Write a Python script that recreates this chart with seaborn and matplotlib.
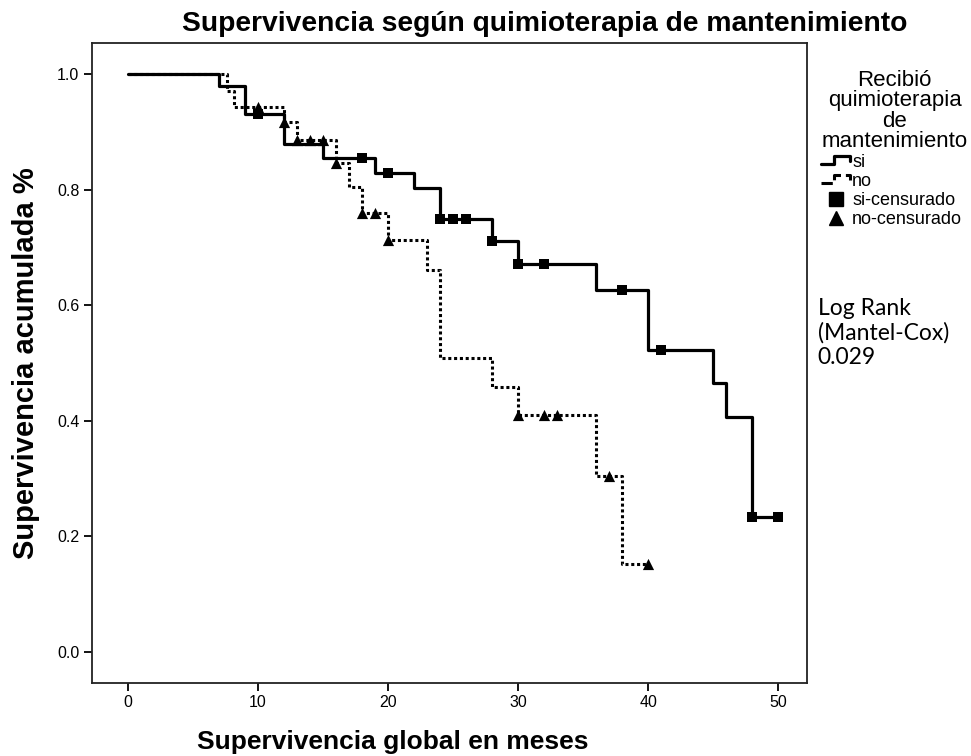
import numpy as np
import matplotlib
matplotlib.use("Agg")
import matplotlib.pyplot as plt
import seaborn as sns
from matplotlib.lines import Line2D
from matplotlib.legend_handler import HandlerLine2D

# Curvas de Kaplan-Meier (meses, supervivencia acumulada)
si_tiempos = [0, 7, 9, 12, 15, 19, 22, 24, 28, 30, 36, 40, 45, 46, 48, 50]
si_superv = [1.0, 0.979, 0.931, 0.879, 0.855, 0.829, 0.803, 0.749, 0.711,
             0.671, 0.626, 0.522, 0.465, 0.407, 0.233, 0.233]
si_censurados = [10, 18, 20, 24, 25, 26, 28, 30, 32, 38, 41, 48, 50]

no_tiempos = [0, 7.6, 8.2, 12, 13, 16, 17, 18, 20, 23, 24, 28, 30, 36, 38, 40]
no_superv = [1.0, 0.971, 0.943, 0.917, 0.886, 0.846, 0.804, 0.760, 0.713,
             0.661, 0.509, 0.459, 0.410, 0.304, 0.152, 0.152]
no_censurados = [10, 12, 13, 14, 15, 16, 18, 19, 20, 30, 32, 33, 37, 40]

etiquetas = ["si", "no", "si-censurado", "no-censurado"]
x_ticks = [0, 10, 20, 30, 40, 50]
y_ticks = [0.0, 0.2, 0.4, 0.6, 0.8, 1.0]


def valor_en(tiempos, superv, t):
    # valor de la curva escalonada en el tiempo t
    i = np.searchsorted(tiempos, t, side="right") - 1
    return superv[i]


sns.set_style("white")
plt.rcParams["font.family"] = ["Liberation Sans", "DejaVu Sans"]
plt.rcParams["text.color"] = "black"
plt.rcParams["axes.labelcolor"] = "black"
plt.rcParams["xtick.color"] = "black"
plt.rcParams["ytick.color"] = "black"

fig = plt.figure(figsize=(9.71, 7.56), dpi=100)
ax = fig.add_axes([0.0947, 0.0966, 0.7364, 0.8466])

sns.lineplot(x=si_tiempos, y=si_superv, drawstyle="steps-post", color="black",
             linewidth=2.3, estimator=None, sort=False, ax=ax)
sns.lineplot(x=no_tiempos, y=no_superv, drawstyle="steps-post", color="black",
             linewidth=2.2, linestyle=(0, (1, 0.9)), estimator=None, sort=False, ax=ax)

si_cens_y = [valor_en(si_tiempos, si_superv, t) for t in si_censurados]
no_cens_y = [valor_en(no_tiempos, no_superv, t) for t in no_censurados]
sns.scatterplot(x=si_censurados, y=si_cens_y, marker="s", s=55, color="black",
                edgecolor="black", linewidth=0, zorder=3, ax=ax)
sns.scatterplot(x=no_censurados, y=no_cens_y, marker="^", s=65, color="black",
                edgecolor="black", linewidth=0, zorder=3, ax=ax)

ax.set_xlim(-2.75, 52.2)
ax.set_ylim(-0.054, 1.054)
ax.set_xticks(x_ticks)
ax.set_yticks(y_ticks)
ax.set_yticklabels([f"{v:.1f}" for v in y_ticks])
ax.tick_params(axis="both", direction="out", length=6, width=1.3, labelsize=11.5,
               color="black", bottom=True, left=True, pad=3)
for lado in ax.spines.values():
    lado.set_color("#222222")
    lado.set_linewidth(1.3)

# título algo desplazado a la derecha, como en el original
fig.text(0.561, 0.968, "Supervivencia según quimioterapia de mantenimiento",
         fontsize=20.3, fontweight="bold", ha="center", va="center")
ax.set_xlabel("Supervivencia global en meses", fontsize=19, fontweight="bold")
ax.xaxis.set_label_coords(0.42, -0.073)
ax.set_ylabel("Supervivencia acumulada %", fontsize=21, fontweight="bold", labelpad=12)


class HandlerEscalon(HandlerLine2D):
    # icono de leyenda en forma de escalón, como en SPSS
    def create_artists(self, legend, orig_handle, xdescent, ydescent,
                       width, height, fontsize, trans):
        x0 = -xdescent
        y0 = -ydescent
        xs = [x0, x0 + 0.45 * width, x0 + 0.45 * width, x0 + width, x0 + width]
        ys = [y0 + 0.25 * height, y0 + 0.25 * height, y0 + 0.85 * height,
              y0 + 0.85 * height, y0 + 0.5 * height]
        linea = Line2D(xs, ys, color="black", linewidth=orig_handle.get_linewidth(),
                       linestyle=orig_handle.get_linestyle(), transform=trans)
        return [linea]


h_si = Line2D([], [], color="black", linewidth=2.3)
h_no = Line2D([], [], color="black", linewidth=2.2, linestyle=(0, (1, 0.9)))
h_si_c = Line2D([], [], color="black", marker="s", markersize=10, linestyle="none")
h_no_c = Line2D([], [], color="black", marker="^", markersize=10, linestyle="none")

leg = ax.legend([h_si, h_no, h_si_c, h_no_c], etiquetas,
                title="Recibió\nquimioterapia\nde\nmantenimiento",
                loc="upper left", bbox_to_anchor=(1.0, 0.98), frameon=False,
                fontsize=13, title_fontsize=16, handlelength=1.6,
                handletextpad=0.1, labelspacing=0.12, borderaxespad=0.4,
                handler_map={h_si: HandlerEscalon(), h_no: HandlerEscalon()})
leg._legend_box.align = "left"
leg.get_title().set_multialignment("center")
leg.get_title().set_linespacing(0.95)

fig.text(0.842, 0.606, "Log Rank\n(Mantel-Cox)\n0.029", fontsize=16.5,
         family=["Lato", "DejaVu Sans"], va="top", ha="left", linespacing=1.2)

fig.savefig("out.png", dpi=100)
